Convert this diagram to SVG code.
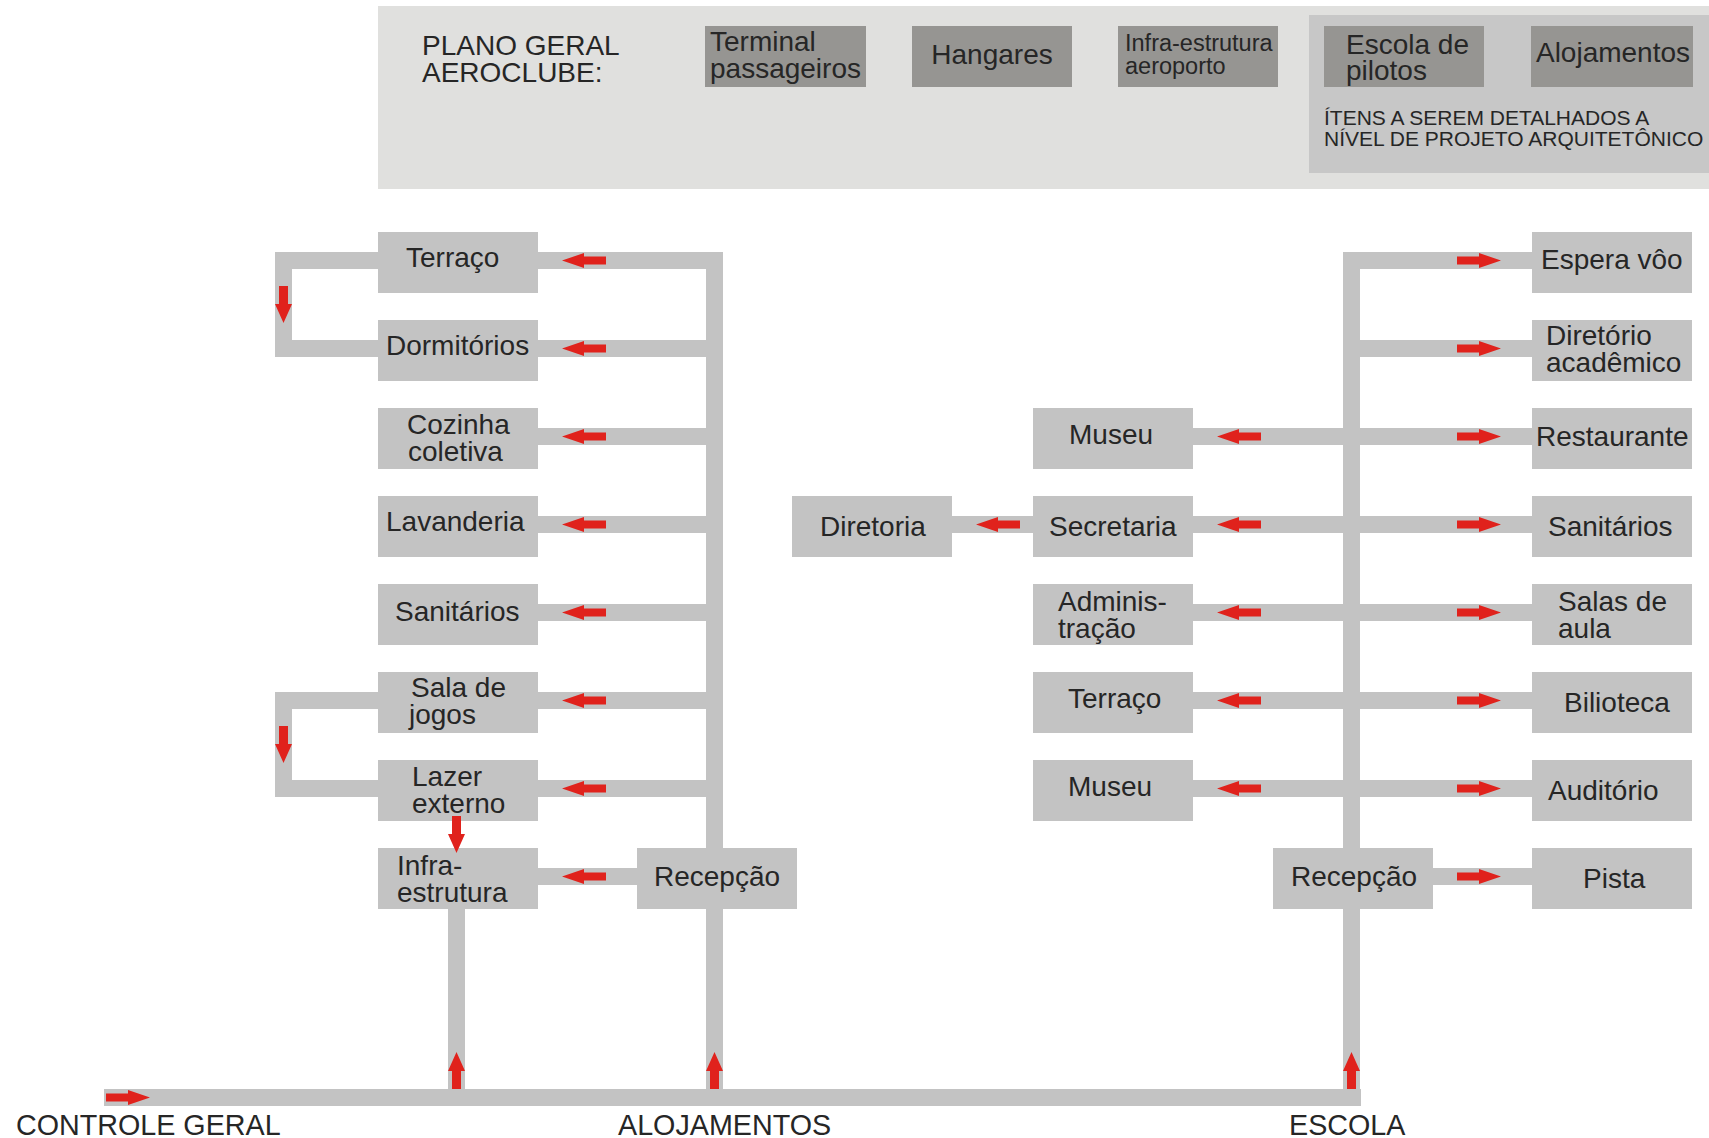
<svg xmlns="http://www.w3.org/2000/svg" xmlns:xlink="http://www.w3.org/1999/xlink" width="1709" height="1138" viewBox="0 0 1709 1138">
<style>
  text { font-family: "Liberation Sans", Arial, sans-serif; fill: #262626; font-size: 28px; }
  .box { fill: #c3c3c3; }
  .dbox { fill: #969592; }
  .bar { fill: #c3c3c3; }
  .arr { fill: #e0221c; }
  .small { font-size: 23.5px; }
  .note { font-size: 21px; }
  .lbl { font-size: 28.7px; }
  .mid { text-anchor: middle; }
</style>
<defs>
  <path id="ah" d="M0,-4 H22 V-7.5 L44,0 L22,7.5 V4 H0 Z"/>
  <path id="av" d="M0,-4.5 H18 V-8.5 L37,0 L18,8.5 V4.5 H0 Z"/>
</defs>
<rect width="1709" height="1138" fill="#ffffff"/>

<!-- Header legend -->
<g id="header">
  <rect x="378" y="6" width="1331" height="183" fill="#e0e0de"/>
  <text x="422" y="55">PLANO GERAL</text>
  <text x="422" y="82">AEROCLUBE:</text>
</g>
<g id="legend-terminal">
  <rect class="dbox" x="705" y="26" width="161" height="61"/>
  <text x="710" y="51">Terminal</text>
  <text x="710" y="78">passageiros</text>
</g>
<g id="legend-hangares">
  <rect class="dbox" x="912" y="26" width="160" height="61"/>
  <text class="mid" x="992" y="64">Hangares</text>
</g>
<g id="legend-infra">
  <rect class="dbox" x="1118" y="26" width="160" height="61"/>
  <text class="small" x="1125" y="51">Infra-estrutura</text>
  <text class="small" x="1125" y="74">aeroporto</text>
</g>
<g id="legend-detail">
  <rect x="1309" y="15" width="400" height="158" fill="#c7c7c7"/>
  <text class="note" x="1324" y="125">ÍTENS A SEREM DETALHADOS A</text>
  <text class="note" x="1324" y="146">NÍVEL DE PROJETO ARQUITETÔNICO</text>
</g>
<g id="legend-escola">
  <rect class="dbox" x="1324" y="26" width="160" height="61"/>
  <text x="1346" y="54">Escola de</text>
  <text x="1346" y="80">pilotos</text>
</g>
<g id="legend-alojamentos">
  <rect class="dbox" x="1531" y="26" width="162" height="61"/>
  <text class="mid" x="1613" y="62">Alojamentos</text>
</g>

<!-- Connector bars -->
<g id="connectors">
  <rect class="bar" x="104" y="1089" width="1257" height="17"/>
  <rect class="bar" x="706" y="252" width="17" height="854"/>
  <rect class="bar" x="538" y="252" width="185" height="17"/>
  <rect class="bar" x="538" y="340" width="185" height="17"/>
  <rect class="bar" x="538" y="428" width="185" height="17"/>
  <rect class="bar" x="538" y="516" width="185" height="17"/>
  <rect class="bar" x="538" y="604" width="185" height="17"/>
  <rect class="bar" x="538" y="692" width="185" height="17"/>
  <rect class="bar" x="538" y="780" width="185" height="17"/>
  <rect class="bar" x="538" y="868" width="99" height="17"/>
  <rect class="bar" x="275" y="252" width="103" height="17"/>
  <rect class="bar" x="275" y="252" width="17" height="105"/>
  <rect class="bar" x="275" y="340" width="103" height="17"/>
  <rect class="bar" x="275" y="692" width="103" height="17"/>
  <rect class="bar" x="275" y="692" width="17" height="105"/>
  <rect class="bar" x="275" y="780" width="103" height="17"/>
  <rect class="bar" x="448" y="909" width="17" height="197"/>
  <rect class="bar" x="1343" y="252" width="17" height="854"/>
  <rect class="bar" x="1343" y="252" width="189" height="17"/>
  <rect class="bar" x="1343" y="340" width="189" height="17"/>
  <rect class="bar" x="1193" y="428" width="339" height="17"/>
  <rect class="bar" x="1193" y="516" width="339" height="17"/>
  <rect class="bar" x="1193" y="604" width="339" height="17"/>
  <rect class="bar" x="1193" y="692" width="339" height="17"/>
  <rect class="bar" x="1193" y="780" width="339" height="17"/>
  <rect class="bar" x="952" y="516" width="81" height="17"/>
  <rect class="bar" x="1433" y="868" width="99" height="17"/>
</g>

<!-- Alojamentos nodes -->
<g id="al-terraco"><rect class="box" x="378" y="232" width="160" height="61"/><text x="406" y="267">Terraço</text></g>
<g id="al-dormitorios"><rect class="box" x="378" y="320" width="160" height="61"/><text x="386" y="355">Dormitórios</text></g>
<g id="al-cozinha"><rect class="box" x="378" y="408" width="160" height="61"/><text x="407" y="434">Cozinha</text><text x="408" y="461">coletiva</text></g>
<g id="al-lavanderia"><rect class="box" x="378" y="496" width="160" height="61"/><text x="386" y="531">Lavanderia</text></g>
<g id="al-sanitarios"><rect class="box" x="378" y="584" width="160" height="61"/><text x="395" y="621">Sanitários</text></g>
<g id="al-sala-jogos"><rect class="box" x="378" y="672" width="160" height="61"/><text x="411" y="697">Sala de</text><text x="409" y="724">jogos</text></g>
<g id="al-lazer"><rect class="box" x="378" y="760" width="160" height="61"/><text x="412" y="786">Lazer</text><text x="412" y="813">externo</text></g>
<g id="al-infra"><rect class="box" x="378" y="848" width="160" height="61"/><text x="397" y="875">Infra-</text><text x="397" y="902">estrutura</text></g>
<g id="al-recepcao"><rect class="box" x="637" y="848" width="160" height="61"/><text class="mid" x="717" y="886">Recepção</text></g>

<!-- Escola nodes -->
<g id="es-espera"><rect class="box" x="1532" y="232" width="160" height="61"/><text x="1541" y="269">Espera vôo</text></g>
<g id="es-diretorio"><rect class="box" x="1532" y="320" width="160" height="61"/><text x="1546" y="345">Diretório</text><text x="1546" y="372">acadêmico</text></g>
<g id="es-restaurante"><rect class="box" x="1532" y="408" width="160" height="61"/><text x="1536" y="446">Restaurante</text></g>
<g id="es-sanitarios"><rect class="box" x="1532" y="496" width="160" height="61"/><text x="1548" y="536">Sanitários</text></g>
<g id="es-salas"><rect class="box" x="1532" y="584" width="160" height="61"/><text x="1558" y="611">Salas de</text><text x="1558" y="638">aula</text></g>
<g id="es-biblioteca"><rect class="box" x="1532" y="672" width="160" height="61"/><text x="1564" y="712">Bilioteca</text></g>
<g id="es-auditorio"><rect class="box" x="1532" y="760" width="160" height="61"/><text x="1548" y="800">Auditório</text></g>
<g id="es-pista"><rect class="box" x="1532" y="848" width="160" height="61"/><text x="1583" y="888">Pista</text></g>
<g id="es-museu1"><rect class="box" x="1033" y="408" width="160" height="61"/><text x="1069" y="444">Museu</text></g>
<g id="es-secretaria"><rect class="box" x="1033" y="496" width="160" height="61"/><text x="1049" y="536">Secretaria</text></g>
<g id="es-diretoria"><rect class="box" x="792" y="496" width="160" height="61"/><text x="820" y="536">Diretoria</text></g>
<g id="es-administracao"><rect class="box" x="1033" y="584" width="160" height="61"/><text x="1058" y="611">Adminis-</text><text x="1058" y="638">tração</text></g>
<g id="es-terraco"><rect class="box" x="1033" y="672" width="160" height="61"/><text x="1068" y="708">Terraço</text></g>
<g id="es-museu2"><rect class="box" x="1033" y="760" width="160" height="61"/><text x="1068" y="796">Museu</text></g>
<g id="es-recepcao"><rect class="box" x="1273" y="848" width="160" height="61"/><text class="mid" x="1354" y="886">Recepção</text></g>

<!-- Arrowheads on connectors -->
<g id="connector-arrows" class="arr">
  <use xlink:href="#ah" transform="translate(106,1097.5)"/>
  <use xlink:href="#av" transform="translate(456.5,1089) rotate(-90)"/>
  <use xlink:href="#av" transform="translate(714.5,1089) rotate(-90)"/>
  <use xlink:href="#av" transform="translate(1351.5,1089) rotate(-90)"/>
  <use xlink:href="#av" transform="translate(283.5,286) rotate(90)"/>
  <use xlink:href="#av" transform="translate(283.5,726) rotate(90)"/>
  <use xlink:href="#av" transform="translate(456.5,816) rotate(90)"/>
  <use xlink:href="#ah" transform="translate(606,260.5) rotate(180)"/>
  <use xlink:href="#ah" transform="translate(606,348.5) rotate(180)"/>
  <use xlink:href="#ah" transform="translate(606,436.5) rotate(180)"/>
  <use xlink:href="#ah" transform="translate(606,524.5) rotate(180)"/>
  <use xlink:href="#ah" transform="translate(606,612.5) rotate(180)"/>
  <use xlink:href="#ah" transform="translate(606,700.5) rotate(180)"/>
  <use xlink:href="#ah" transform="translate(606,788.5) rotate(180)"/>
  <use xlink:href="#ah" transform="translate(606,876.5) rotate(180)"/>
  <use xlink:href="#ah" transform="translate(1457,260.5)"/>
  <use xlink:href="#ah" transform="translate(1457,348.5)"/>
  <use xlink:href="#ah" transform="translate(1457,436.5)"/>
  <use xlink:href="#ah" transform="translate(1457,524.5)"/>
  <use xlink:href="#ah" transform="translate(1457,612.5)"/>
  <use xlink:href="#ah" transform="translate(1457,700.5)"/>
  <use xlink:href="#ah" transform="translate(1457,788.5)"/>
  <use xlink:href="#ah" transform="translate(1457,876.5)"/>
  <use xlink:href="#ah" transform="translate(1261,436.5) rotate(180)"/>
  <use xlink:href="#ah" transform="translate(1261,524.5) rotate(180)"/>
  <use xlink:href="#ah" transform="translate(1261,612.5) rotate(180)"/>
  <use xlink:href="#ah" transform="translate(1261,700.5) rotate(180)"/>
  <use xlink:href="#ah" transform="translate(1261,788.5) rotate(180)"/>
  <use xlink:href="#ah" transform="translate(1020,524.5) rotate(180)"/>
</g>

<!-- Bottom labels -->
<g id="labels">
  <text class="lbl" x="16" y="1135">CONTROLE GERAL</text>
  <text class="lbl" x="618" y="1135">ALOJAMENTOS</text>
  <text class="lbl" x="1289" y="1135">ESCOLA</text>
</g>
</svg>
